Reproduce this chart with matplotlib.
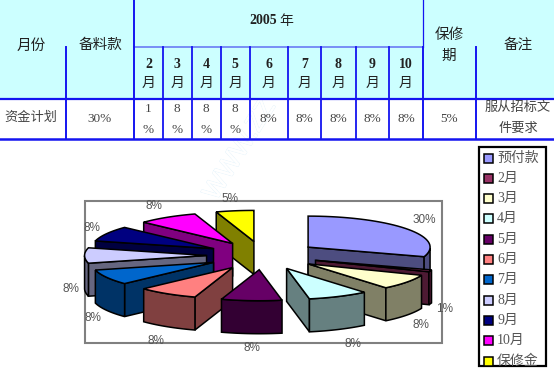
import numpy as np
import matplotlib
matplotlib.use('Agg')
import matplotlib.pyplot as plt
import matplotlib.patheffects as pe
from matplotlib.patches import Polygon, Rectangle

plt.rcParams['font.family'] = ['Liberation Serif', 'Noto Sans CJK SC', 'DejaVu Sans']

# table text
month_nums = ['2', '3', '4', '5', '6', '7', '8', '9', '10']
month_vals = ['1\n%', '8\n%', '8\n%', '8\n%', '8%', '8%', '8%', '8%', '8%']

# pie data
names = ['预付款', '2月', '3月', '4月', '5月', '6月', '7月', '8月', '9月', '10月', '保修金']
values = [30, 1, 8, 8, 8, 8, 8, 8, 8, 8, 5]
colors = ['#9999FF', '#993366', '#FFFFCC', '#CCFFFF', '#660066', '#FF8080',
          '#0066CC', '#CCCCFF', '#000080', '#FF00FF', '#FFFF00']
label_pos = [(424, 220), (445, 309), (421, 325), (353, 344), (252, 348), (156, 341),
             (93, 318), (71, 289), (92, 228), (154, 206), (230, 199)]

fig = plt.figure(figsize=(5.54, 3.71), dpi=100)
ax = fig.add_axes([0, 0, 1, 1])
ax.set_xlim(0, 554)
ax.set_ylim(371, 0)
ax.axis('off')

# faint watermark, only shows on the white parts
ax.text(240, 150, 'WWW.ZZ', ha='center', va='center', rotation=58, fontsize=19,
        color='white', family='Liberation Sans', zorder=0.5,
        path_effects=[pe.withStroke(linewidth=0.7, foreground='#E2F2FB'), pe.Normal()])

# table background and lines
ax.add_patch(Rectangle((0, 0), 554, 98, fc='#CCFFFF', ec='none', zorder=1))

blue = '#1414F0'
col_x = [163, 191.5, 221, 249.5, 288, 321, 355.5, 389]
ax.plot([0, 554], [98.5, 98.5], color=blue, lw=1.6)
ax.plot([0, 554], [138.5, 138.5], color=blue, lw=1.8)
ax.plot([134, 423], [47, 47], color='#6A7CF5', lw=1.2)
ax.plot([134, 134], [0, 138], color=blue, lw=1.4)
ax.plot([423, 423], [0, 47], color=blue, lw=0.9)
ax.plot([423, 423], [47, 138], color=blue, lw=1.4)
for x in [66, 476]:
    ax.plot([x, x], [47, 138], color=blue, lw=1.4)
for x in col_x:
    ax.plot([x, x], [47, 138], color=blue, lw=1.3)

head = '#222222'
cell = '#444444'
ax.text(31, 46, '月份', ha='center', va='center', fontsize=10.5, color=head)
ax.text(100, 45, '备料款', ha='center', va='center', fontsize=10.5, color=head)
ax.text(277, 21, '2005', ha='right', va='center', fontsize=10, color=head, weight='bold')
ax.text(279, 21, '年', ha='left', va='center', fontsize=10, color=head)
ax.text(449, 35, '保修', ha='center', va='center', fontsize=10.5, color=head)
ax.text(449, 56, '期', ha='center', va='center', fontsize=10.5, color=head)
ax.text(518, 45, '备注', ha='center', va='center', fontsize=10.5, color=head)
ax.text(31, 118, '资金计划', ha='center', va='center', fontsize=9.5, color=cell)
ax.text(100, 119, '30%', ha='center', va='center', fontsize=9.5, color=cell)
ax.text(449, 119, '5%', ha='center', va='center', fontsize=9.5, color=cell)
ax.text(518, 108, '服从招标文', ha='center', va='center', fontsize=9.5, color=cell)
ax.text(518, 129, '件要求', ha='center', va='center', fontsize=9.5, color=cell)

edges = [134] + col_x + [423]
for i, (num, val) in enumerate(zip(month_nums, month_vals)):
    xc = (edges[i] + edges[i + 1]) / 2
    ax.text(xc, 64, num, ha='center', va='center', fontsize=10, color=head, weight='bold')
    ax.text(xc, 83, '月', ha='center', va='center', fontsize=10, color=head)
    parts = val.split('\n')
    if len(parts) == 2:
        ax.text(xc, 109, parts[0], ha='center', va='center', fontsize=9.5, color=cell)
        ax.text(xc, 130, parts[1], ha='center', va='center', fontsize=9.5, color=cell)
    else:
        ax.text(xc, 119, val, ha='center', va='center', fontsize=9.5, color=cell)

# chart frame
ax.add_patch(Rectangle((84.5, 201), 357.5, 142, fc='none', ec='#808080', lw=1.5))

# exploded pie, squashed circle seen from above
cx, cy = 262.7, 255.5
rx, ry = 122, 31
depth = 33
explode = 0.46


def half(c):
    return tuple(v * 0.5 for v in matplotlib.colors.to_rgb(c))


fracs = np.array(values) / sum(values) * 360
starts = np.concatenate([[0], np.cumsum(fracs)[:-1]])
ends = starts + fracs
mids = (starts + ends) / 2

# back slices first
for i in np.argsort(-np.cos(np.radians(mids))):
    a, b, m = starts[i], ends[i], np.radians(mids[i])
    ox = cx + explode * rx * np.sin(m)
    oy = cy - explode * ry * np.cos(m)
    th = np.radians(np.linspace(a, b, 40))
    arc = np.column_stack([ox + rx * np.sin(th), oy - ry * np.cos(th)])
    apex = np.array([ox, oy])
    down = np.array([0, depth])
    wall = half(colors[i])

    # radial sides
    if np.sin(np.radians(a)) < -1e-6:
        pts = [apex, arc[0], arc[0] + down, apex + down]
        ax.add_patch(Polygon(pts, fc=wall, ec='black', lw=1.1))
    if np.sin(np.radians(b)) > 1e-6:
        pts = [apex, arc[-1], arc[-1] + down, apex + down]
        ax.add_patch(Polygon(pts, fc=wall, ec='black', lw=1.1))
    # outer wall, only the part facing us
    front = np.cos(th) < 0
    if front.sum() > 1:
        part = arc[front]
        ax.add_patch(Polygon(np.vstack([part, (part + down)[::-1]]), fc=wall, ec='black', lw=1.1))
    # top
    ax.add_patch(Polygon(np.vstack([apex, arc]), fc=colors[i], ec='black', lw=1.1))

for v, (x, y) in zip(values, label_pos):
    ax.text(x, y, f'{v}%', ha='center', va='center', fontsize=8.5, color='#555555',
            family=['Liberation Sans', 'DejaVu Sans'])

# legend box
box = Rectangle((478.5, 147), 67, 219, fc='white', ec='black', lw=1.6)
ax.add_patch(box)
for i, (name, c) in enumerate(zip(names, colors)):
    y = 158 + i * 20.3
    ax.add_patch(Rectangle((483.5, y - 4.5), 9, 9, fc=c, ec='black', lw=1.1, clip_path=box))
    t = ax.text(497, y, name, ha='left', va='center', fontsize=10, color='#555555')
    t.set_clip_path(box)

fig.savefig('out.png', dpi=100)
